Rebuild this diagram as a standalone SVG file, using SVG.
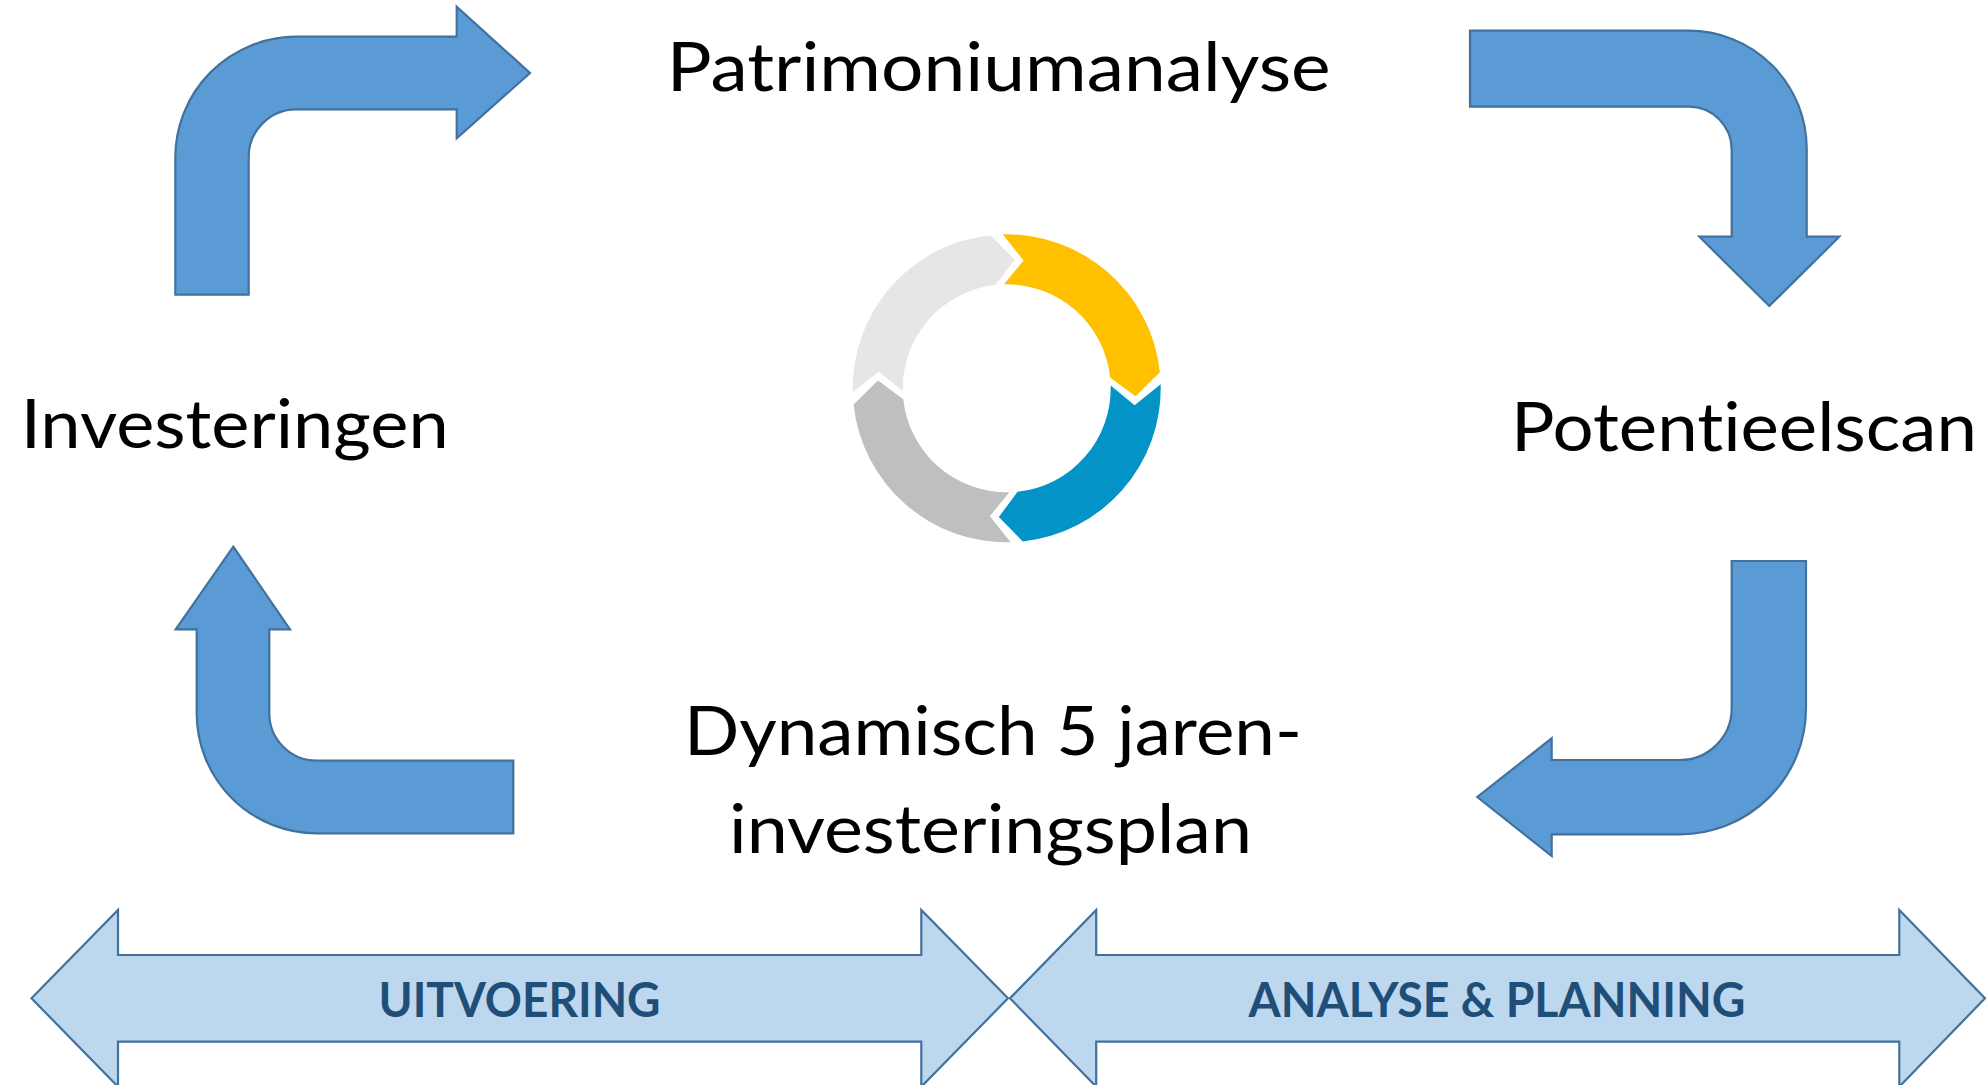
<svg xmlns="http://www.w3.org/2000/svg" xmlns:xlink="http://www.w3.org/1999/xlink" width="1987" height="1085" viewBox="0 0 1987 1085">
  <style>
    .bent { fill: #5B9BD5; stroke: #41719C; stroke-width: 2.2; stroke-linejoin: miter; }
    .dbl { fill: #BDD7EE; stroke: #41719C; stroke-width: 2.2; }
    .main { font-family: Lato, "Open Sans", "Liberation Sans", sans-serif; font-size: 68px; fill: #000000; text-anchor: middle; font-variant-ligatures: none; font-feature-settings: "liga" 0, "dlig" 0; }
    .band { font-family: Lato, "Open Sans", "Liberation Sans", sans-serif; font-weight: bold; font-size: 48px; fill: #1F4E79; text-anchor: middle; font-variant-ligatures: none; }
  </style>
  <defs>
    <path id="seg" d="M1002.67,234.35 A154,154 0 0 1 1159.86,372.20 L1135.46,396.18 L1110.13,377.43 A104,104 0 0 0 1003.98,284.34 L1023.54,260.40 Z"/>
  </defs>
  <rect width="1987" height="1085" fill="#FFFFFF"/>

  <g id="connectors">
    <path id="arrow-top-left" class="bent" d="M175.3,294.7 L175.3,157.7 A121,121 0 0 1 296.3,36.7 L456.7,36.7 L456.7,6.7 L530,73 L456.7,138.3 L456.7,109.3 L296.3,109.3 A47.6,47.6 0 0 0 248.7,157.3 L248.7,294.7 Z"/>
    <path id="arrow-top-right" class="bent" d="M1470,30.7 L1688.7,30.7 A118,118 0 0 1 1806.7,148.7 L1806.7,236.7 L1839.3,236.7 L1769.3,306 L1699.3,236.7 L1731.7,236.7 L1731.7,149.7 A43,43 0 0 0 1688.7,106.7 L1470,106.7 Z"/>
    <path id="arrow-bottom-right" class="bent" d="M1731.7,561 L1806,561 L1806,708.3 A126,126 0 0 1 1680,834.3 L1551.7,834.3 L1551.7,856 L1477.3,797 L1551.7,738.3 L1551.7,760 L1680,760 A51.7,51.7 0 0 0 1731.7,708.3 Z"/>
    <path id="arrow-bottom-left" class="bent" d="M513.3,760.7 L513.3,833.3 L316.7,833.3 A120,120 0 0 1 196.7,713.3 L196.7,629.3 L175.7,629.3 L233.3,546.7 L290,629.3 L269.3,629.3 L269.3,713.3 A47.4,47.4 0 0 0 316.7,760.7 Z"/>
  </g>

  <g id="cycle">
    <use xlink:href="#seg" href="#seg" fill="#FFC000"/>
    <use xlink:href="#seg" href="#seg" fill="#0393C6" transform="rotate(90 1006.7 388.3)"/>
    <use xlink:href="#seg" href="#seg" fill="#BFBFBF" transform="rotate(180 1006.7 388.3)"/>
    <use xlink:href="#seg" href="#seg" fill="#E6E6E6" transform="rotate(270 1006.7 388.3)"/>
  </g>

  <g id="node-patrimoniumanalyse">
    <text class="main" x="998.7" y="90.7" textLength="664" lengthAdjust="spacingAndGlyphs">Patrimoniumanalyse</text>
  </g>
  <g id="node-potentieelscan">
    <text class="main" x="1743.9" y="450.7" textLength="466" lengthAdjust="spacingAndGlyphs">Potentieelscan</text>
  </g>
  <g id="node-investeringsplan">
    <text class="main" x="993" y="755" textLength="618" lengthAdjust="spacingAndGlyphs">Dynamisch 5 jaren-</text>
    <text class="main" x="990.5" y="853" textLength="523" lengthAdjust="spacingAndGlyphs">investeringsplan</text>
  </g>
  <g id="node-investeringen">
    <text class="main" x="234.7" y="448.3" textLength="428" lengthAdjust="spacingAndGlyphs">Investeringen</text>
  </g>

  <g id="node-uitvoering">
    <path class="dbl" d="M31.5,998.3 L118,910 L118,955 L921.3,955 L921.3,910 L1008,998.3 L921.3,1086.7 L921.3,1041.7 L118,1041.7 L118,1086.7 Z"/>
    <text class="band" x="519.5" y="1016.7" textLength="282" lengthAdjust="spacingAndGlyphs">UITVOERING</text>
  </g>
  <g id="node-analyse-planning">
    <path class="dbl" d="M1010,998.3 L1096.2,910 L1096.2,955 L1899.3,955 L1899.3,910 L1985,998.3 L1899.3,1086.7 L1899.3,1041.7 L1096.2,1041.7 L1096.2,1086.7 Z"/>
    <text class="band" x="1497" y="1016.7" textLength="497" lengthAdjust="spacingAndGlyphs">ANALYSE &amp; PLANNING</text>
  </g>
</svg>
